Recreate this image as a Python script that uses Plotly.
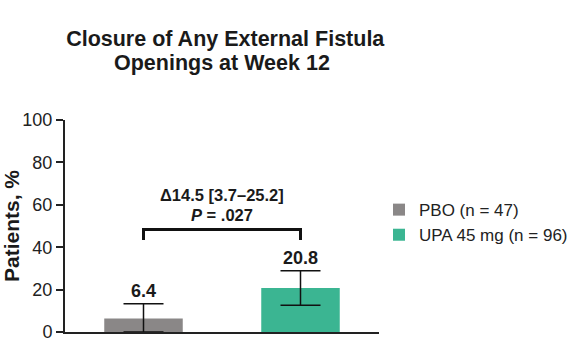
import plotly.graph_objects as go

categories = ["PBO", "UPA 45 mg"]
legend_names = ["PBO (n = 47)", "UPA 45 mg (n = 96)"]
values = [6.4, 20.8]
err_plus = [6.9, 8.1]
err_minus = [6.4, 8.2]
colors = ["#8a8787", "#3bb592"]
bracket_top = 48.4
bracket_leg = 43.4
diff_text = "Δ14.5 [3.7–25.2]"
p_text = "<i>P</i> = .027"
y_ticks = [0, 20, 40, 60, 80, 100]
title_lines = ["Closure of Any External Fistula", "Openings at Week 12"]

FONT = "Liberation Sans, Arial, sans-serif"

fig = go.Figure()
for i, cat in enumerate(categories):
    fig.add_trace(go.Bar(
        x=[i], y=[values[i]], name=legend_names[i],
        marker=dict(color=colors[i], line=dict(width=0)),
        width=0.5,
        error_y=dict(type="data", symmetric=False, array=[err_plus[i]],
                     arrayminus=[err_minus[i]], color="#111", thickness=1.5, width=20),
    ))
    fig.add_annotation(x=i, y=values[i] + err_plus[i], text=f"<b>{values[i]}</b>",
                       showarrow=False, yanchor="bottom", yshift=1,
                       font=dict(size=18, color="#1a1a1a", family=FONT))

# bracket
fig.add_shape(type="path",
              path=f"M 0,{bracket_leg} L 0,{bracket_top} L 1,{bracket_top} L 1,{bracket_leg}",
              line=dict(color="#111", width=3), xref="x", yref="y")
fig.add_annotation(x=0.5, y=bracket_top, text=f"<b>{diff_text}</b>",
                   showarrow=False, yanchor="middle", yshift=34,
                   font=dict(size=16.5, color="#1a1a1a", family=FONT))
fig.add_annotation(x=0.5, y=bracket_top, text=f"<b>{p_text}</b>",
                   showarrow=False, yanchor="middle", yshift=14,
                   font=dict(size=16.5, color="#1a1a1a", family=FONT))

# second title line (tight line spacing)
fig.add_annotation(x=0.5, xref="paper", y=(332 - 63) / 212, yref="paper",
                   text=f"<b>{title_lines[1]}</b>",
                   showarrow=False, xanchor="center", yanchor="middle",
                   font=dict(size=21.5, color="#1a1a1a", family=FONT))

fig.update_layout(
    width=585, height=355,
    margin=dict(l=65, r=200, t=120, b=23),
    paper_bgcolor="white", plot_bgcolor="white",
    barmode="overlay",
    font=dict(family=FONT, color="#222"),
    title=dict(text=f"<b>{title_lines[0]}</b>",
               x=0.385, xanchor="center", xref="container",
               y=1 - 38 / 355, yanchor="middle", yref="container",
               font=dict(size=21.5, color="#1a1a1a", family=FONT)),
    xaxis=dict(range=[-0.5, 1.5], showticklabels=False, ticks="", showgrid=False,
               zeroline=False, showline=True, linecolor="#222", linewidth=2),
    yaxis=dict(range=[0, 100], tickvals=y_ticks, ticks="outside", ticklen=7,
               tickwidth=2, tickcolor="#222", showgrid=False, zeroline=False,
               showline=True, linecolor="#222", linewidth=2, automargin=False,
               tickfont=dict(size=18, color="#222", family=FONT),
               title=dict(text="<b>Patients, %</b>", font=dict(size=21, color="#1a1a1a", family=FONT),
                          standoff=4)),
    legend=dict(x=1.0, xanchor="left", y=0.66, yanchor="top",
                font=dict(size=17, color="#222", family=FONT),
                tracegroupgap=0, itemsizing="constant"),
)

fig.write_html("out.html", post_script="document.body.style.margin='0';",
               config={"displayModeBar": False})
